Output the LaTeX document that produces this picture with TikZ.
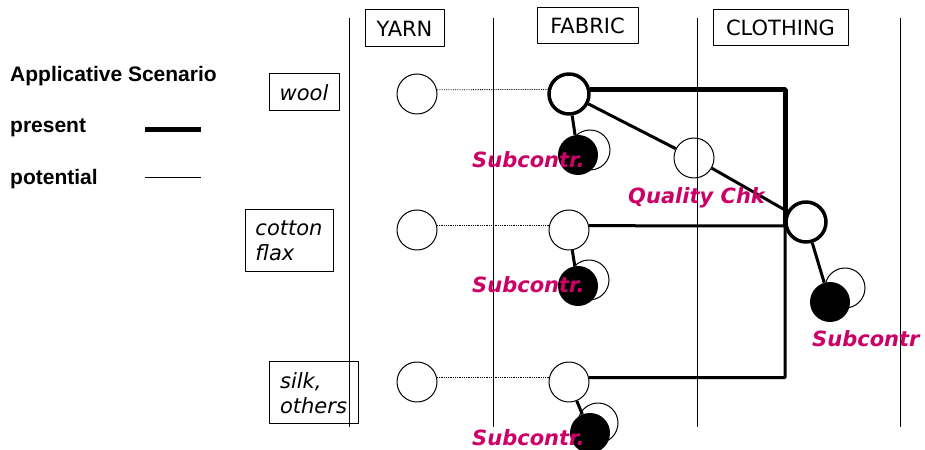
\documentclass[tikz,border=0pt]{standalone}
\usepackage{fontspec}
\setmainfont{DejaVu Sans}
\newfontfamily\legendfont{Liberation Sans}
\definecolor{subcol}{RGB}{204,0,102}
\begin{document}
\fontsize{21bp}{25bp}\selectfont
\begin{tikzpicture}[>=latex,line join=bevel,
  stage/.style={draw,line width=1bp,inner sep=0pt,minimum height=36bp},
  fibre/.style={draw,line width=1bp,inner sep=0pt,align=left,font=\itshape},
  actor/.style={circle,draw,line width=1bp,inner sep=0pt,minimum size=40bp},
  hub/.style={actor,line width=3.5bp},
  subc/.style={circle,fill=black,inner sep=0pt,minimum size=40bp},
  ghost/.style={actor,fill=white},
  lbl/.style={anchor=base west,text=subcol,font=\bfseries\itshape,inner sep=0pt},
  legend/.style={anchor=base west,inner sep=0pt,font=\legendfont\bfseries},
  present/.style={line width=5bp},
  link/.style={line width=3bp},
  potential/.style={line width=1bp},
  dotline/.style={line width=0.8bp,densely dotted},
]
%%
\useasboundingbox (0bp,0bp) rectangle (925bp,450bp);
\draw [potential] (349bp,432bp) -- (349bp,23bp);
\draw [potential] (493bp,432bp) -- (493bp,23bp);
\draw [potential] (697bp,432bp) -- (697bp,23bp);
\draw [potential] (900bp,432bp) -- (900bp,23bp);
%
\node (node_yarn) at (404.5bp,421.5bp) [stage,minimum width=79bp,minimum height=37bp] {YARN};
  \node (node_fabric) at (587.5bp,424bp) [stage,minimum width=101bp] {FABRIC};
  \node (node_clothing) at (780.5bp,422bp) [stage,minimum width=135bp] {CLOTHING};
%
\node (node_title) at (10bp,368bp) [legend] {Applicative Scenario};
  \node (node_present) at (10bp,317bp) [legend] {present};
  \node (node_potential) at (10bp,265bp) [legend] {potential};
  \draw [present] (145bp,320bp) -- (201bp,320bp);
  \draw [potential] (145bp,272bp) -- (201bp,272bp);
%
\node (node_wool) at (304bp,357.5bp) [fibre,minimum width=70bp,minimum height=37bp] {wool};
  \node (node_cotton) at (289bp,209bp) [fibre,minimum width=88bp,minimum height=62bp] {cotton\\flax};
  \node (node_silk) at (313.5bp,57bp) [fibre,minimum width=89bp,minimum height=62bp] {silk,\\others};
%
\node (node_yarn1) at (417bp,356bp) [actor] {};
  \node (node_yarn2) at (417bp,220bp) [actor] {};
  \node (node_yarn3) at (417bp,68bp) [actor] {};
  \node (node_fabric1) at (569bp,356bp) [hub] {};
  \node (node_fabric2) at (569bp,220bp) [actor] {};
  \node (node_fabric3) at (569bp,68bp) [actor] {};
  \node (node_qc) at (694bp,292bp) [actor] {};
  \node (node_cloth) at (806bp,228bp) [hub] {};
  \coordinate (node_join) at (785bp,224.2bp);
%
\node (node_ghost1) at (590bp,300bp) [ghost] {};
  \node (node_sub1) at (578bp,295bp) [subc] {};
  \node (node_ghost2) at (589bp,170bp) [ghost] {};
  \node (node_sub2) at (578bp,164bp) [subc] {};
  \node (node_ghost3) at (598bp,27bp) [ghost] {};
  \node (node_sub3) at (590bp,17bp) [subc] {};
  \node (node_ghost4) at (845bp,162bp) [ghost] {};
  \node (node_sub4) at (830bp,148bp) [subc] {};
%
\draw [dotline] (node_yarn1.12) -- (node_fabric1.168);
  \draw [dotline] (node_yarn2.12) -- (node_fabric2.168);
  \draw [dotline] (node_yarn3.12) -- (node_fabric3.168);
  \draw [present] (node_fabric1.12) -| (node_join);
  \draw [link] (node_fabric2.12) -- (node_join) |- (node_fabric3.12);
  \draw [link] (node_fabric1) -- (node_qc) -- (node_cloth);
  \draw [link] (node_fabric1) -- (node_sub1);
  \draw [link] (node_fabric2) -- (node_sub2);
  \draw [link] (node_fabric3) -- (node_sub3);
  \draw [link] (node_cloth) -- (node_sub4);
%
\node (node_lbl1) at (472bp,282bp) [lbl] {Subcontr.};
  \node (node_lbl2) at (472bp,157bp) [lbl] {Subcontr.};
  \node (node_lbl3) at (472bp,5bp) [lbl] {Subcontr.};
  \node (node_lbl4) at (812bp,103bp) [lbl] {Subcontr};
  \node (node_lblqc) at (628bp,246bp) [lbl] {Quality Chk};
%
\end{tikzpicture}
\end{document}
